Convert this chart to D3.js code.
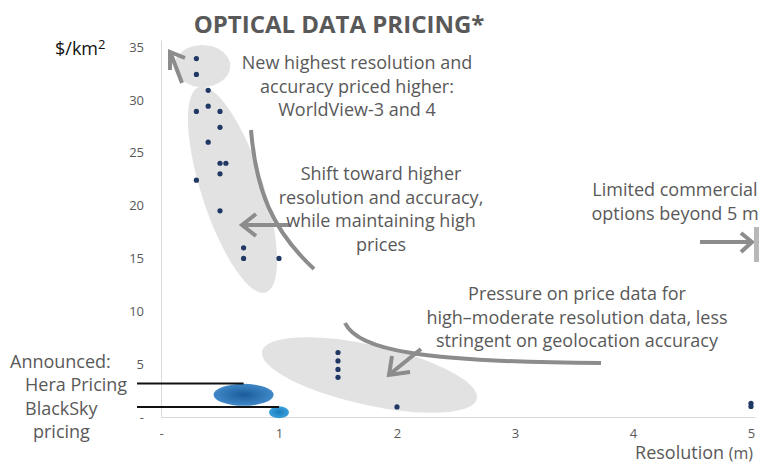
<!DOCTYPE html>
<html>
<head>
<meta charset="utf-8">
<script src="https://cdn.jsdelivr.net/npm/d3@7"></script>
<style>
  html, body { margin: 0; padding: 0; background: #fff; }
  svg { display: block; font-family: "Open Sans", "Noto Sans", sans-serif; }
</style>
</head>
<body>
<svg id="chart" width="763" height="464"></svg>
<script>
// Price per km² versus ground resolution for optical imagery providers
const resolution = [0.3, 0.3, 0.4, 0.3, 0.4, 0.5, 0.5, 0.4, 0.5, 0.55, 0.5, 0.3, 0.5, 0.7, 0.7, 1.0,
                    1.5, 1.5, 1.5, 1.5, 2.0, 5.0, 5.0];
const price      = [33.9, 32.4, 30.9, 28.9, 29.4, 28.9, 27.4, 26.0, 24.0, 24.0, 23.0, 22.4, 19.5, 16.0, 15.0, 15.0,
                    6.1, 5.3, 4.5, 3.75, 0.95, 1.3, 1.0];

// Announced offers (drawn as shaded blobs)
const announcedNames = ["Hera Pricing", "BlackSky"];
const announcedRes   = [0.7, 1.0];
const announcedPrice = [2.1, 0.45];

const xTickValues = [0, 1, 2, 3, 4, 5];
const xTickLabels = ["-", "1", "2", "3", "4", "5"];
const yTickValues = [0, 5, 10, 15, 20, 25, 30, 35];
const yTickLabels = ["-", "5", "10", "15", "20", "25", "30", "35"];

const svg = d3.select("#chart");
const x = d3.scaleLinear().domain([0, 5.034]).range([161, 755]);
const y = d3.scaleLinear().domain([0, 35.66]).range([417, 40]);

const textCol = "#595959";
const arrowCol = "#8c8c8c";
const blobFill = "#e2e2e2";

// Title
svg.append("text").attr("x", 339).attr("y", 33).attr("text-anchor", "middle")
  .attr("font-size", 24).attr("font-weight", "bold").attr("fill", textCol)
  .text("OPTICAL DATA PRICING*");

// Axes
const xAxis = d3.axisBottom(x).tickValues(xTickValues).tickSize(0).tickPadding(12)
  .tickFormat((d, i) => xTickLabels[i]);
const yAxis = d3.axisLeft(y).tickValues(yTickValues).tickSize(0).tickPadding(17)
  .tickFormat((d, i) => yTickLabels[i]);

const gx = svg.append("g").attr("transform", `translate(0,${y(0)})`).call(xAxis);
const gy = svg.append("g").attr("transform", `translate(${x(0)},0)`).call(yAxis);
[gx, gy].forEach(g => {
  g.select(".domain").attr("stroke", "#d9d9d9").attr("stroke-width", 1);
  g.selectAll("text").attr("fill", textCol).attr("font-size", 13).attr("font-family", "\"Open Sans\", sans-serif");
});

// Axis titles
svg.append("text").attr("x", 55).attr("y", 55).attr("font-size", 18).attr("fill", "#111")
  .html('$/km<tspan dy="-6" font-size="13">2</tspan>');
svg.append("text").attr("x", 753).attr("y", 459).attr("text-anchor", "end")
  .attr("font-size", 18).attr("fill", textCol)
  .html('Resolution <tspan font-size="16">(m)</tspan>');

// Grouping ellipses
const blobs = [
  { cx: 0.35, cy: 33.2, rx: 28, ry: 21, rot: 0 },
  { cx: 0.606, cy: 21.5, rx: 31, ry: 108, rot: -18 },
  { cx: 1.767, cy: 3.97, rx: 110, ry: 30, rot: 12.5 }
];
svg.append("g").selectAll("ellipse").data(blobs).join("ellipse")
  .attr("transform", d => `translate(${x(d.cx)},${y(d.cy)}) rotate(${d.rot})`)
  .attr("rx", d => d.rx).attr("ry", d => d.ry)
  .attr("fill", blobFill);

// Arrows
const ag = svg.append("g").attr("fill", "none").attr("stroke", arrowCol)
  .attr("stroke-width", 4).attr("stroke-linecap", "butt").attr("stroke-linejoin", "miter");
function head(tip, a, b) {
  ag.append("path").attr("d", `M${a[0]},${a[1]} L${tip[0]},${tip[1]} L${b[0]},${b[1]}`);
}
// up-left arrow toward the newest, highest-resolution offers
ag.append("path").attr("d", "M182,83 L171,54");
head([170, 52], [185, 58], [170, 70]);
// curved shift arrow
ag.append("path").attr("d", "M251,130 C256,190 272,230 314,269");
ag.append("path").attr("d", "M289,225 L243,225");
head([242, 225], [256, 214], [256, 236]);
// pressure arrow
ag.append("path").attr("d", "M345,323 C358,350 420,362 601,363");
ag.append("path").attr("d", "M421,349 L390,374");
head([389, 375], [392, 356], [410, 372]);
// limited options arrow
ag.append("path").attr("d", "M700,242 L750,242");
head([752, 242], [741, 233], [741, 252]);
svg.append("rect").attr("x", 754).attr("y", 227).attr("width", 5).attr("height", 35).attr("fill", "#b8b8b8");

// Data points
svg.append("g").selectAll("circle").data(resolution).join("circle")
  .attr("cx", d => x(d)).attr("cy", (d, i) => y(price[i])).attr("r", 2.6)
  .attr("fill", "#1f3864");

// Announced offers
const defs = svg.append("defs");
const g1 = defs.append("radialGradient").attr("id", "heraGrad");
g1.append("stop").attr("offset", "0%").attr("stop-color", "#1b5c9a");
g1.append("stop").attr("offset", "100%").attr("stop-color", "#3f88c8");
const g2 = defs.append("radialGradient").attr("id", "bsGrad");
g2.append("stop").attr("offset", "0%").attr("stop-color", "#1a7bbd");
g2.append("stop").attr("offset", "100%").attr("stop-color", "#3aa0dc");
const announcedSize = [[30, 11], [10, 6]];
svg.append("g").selectAll("ellipse").data(announcedRes).join("ellipse")
  .attr("cx", d => x(d)).attr("cy", (d, i) => y(announcedPrice[i]))
  .attr("rx", (d, i) => announcedSize[i][0]).attr("ry", (d, i) => announcedSize[i][1])
  .attr("fill", (d, i) => i === 0 ? "url(#heraGrad)" : "url(#bsGrad)");

// Leader lines
const leaderY = [383.5, 407];
const leaderEnd = [x(0.7), x(1.0)];
svg.append("g").selectAll("line").data(leaderY).join("line")
  .attr("x1", 137).attr("x2", (d, i) => leaderEnd[i])
  .attr("y1", d => d).attr("y2", d => d)
  .attr("stroke", "#111").attr("stroke-width", 2);

// Left-side labels
const leftLabels = [
  { t: "Announced:", x: 10, y: 368 },
  { t: "Hera Pricing", x: 25, y: 391 },
  { t: "BlackSky", x: 25, y: 415 },
  { t: "pricing", x: 33, y: 438 }
];
svg.append("g").selectAll("text").data(leftLabels).join("text")
  .attr("x", d => d.x).attr("y", d => d.y).attr("font-size", 18).attr("fill", textCol)
  .text(d => d.t);

// Callout text blocks
const notes = [
  { cx: 357, y0: 69, lines: ["New highest resolution and", "accuracy priced higher:", "WorldView-3 and 4"] },
  { cx: 381, y0: 180, lines: ["Shift toward higher", "resolution and accuracy,", "while maintaining high", "prices"] },
  { cx: 675, y0: 196, lines: ["Limited commercial", "options beyond 5 m"] },
  { cx: 577, y0: 300, lines: ["Pressure on price data for", "high\u2013moderate resolution data, less", "stringent on geolocation accuracy"] }
];
notes.forEach(n => {
  const t = svg.append("text").attr("text-anchor", "middle").attr("font-size", 18).attr("fill", textCol);
  n.lines.forEach((l, i) => t.append("tspan").attr("x", n.cx).attr("y", n.y0 + i * 23.5).text(l));
});
</script>
</body>
</html>
